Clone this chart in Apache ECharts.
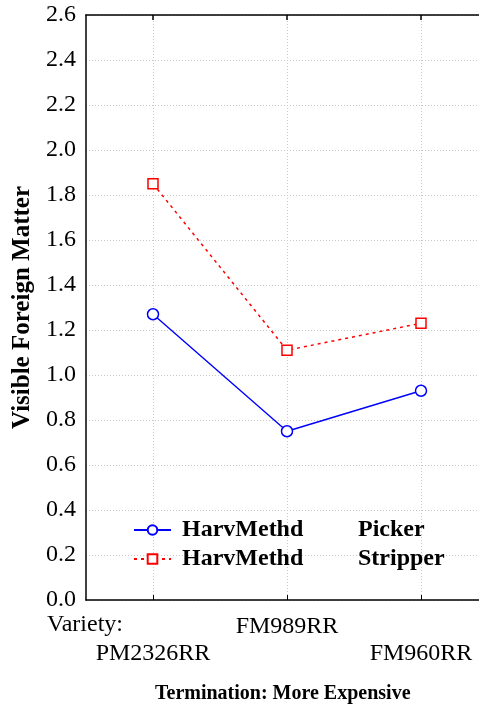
<!DOCTYPE html>
<html>
<head>
<meta charset="utf-8">
<script src="https://cdn.jsdelivr.net/npm/echarts@6/dist/echarts.min.js"></script>
<style>
  html, body { margin: 0; padding: 0; background: #fff; }
  #chart { width: 479px; height: 706px; }
</style>
</head>
<body>
<div id="chart"></div>
<script>
// Variety means of visible foreign matter by harvest method
const varieties = ['PM2326RR', 'FM989RR', 'FM960RR'];
const pickerValues = [1.27, 0.75, 0.93];
const stripperValues = [1.85, 1.11, 1.23];
const yTicks = { min: 0, max: 2.6, step: 0.2 };
const seriesNames = ['Picker', 'Stripper'];

const FONT = '"Liberation Serif", "Times New Roman", serif';
const gridLine = { show: true, lineStyle: { color: '#c8c8c8', type: [1, 2], width: 1 } };

const chart = echarts.init(document.getElementById('chart'), null, { renderer: 'canvas' });

chart.setOption({
  animation: false,
  backgroundColor: '#ffffff',
  grid: { left: 86, top: 15, width: 402, height: 585, containLabel: false, outerBoundsMode: 'none' },
  legend: {
    orient: 'vertical',
    left: 128,
    top: 513,
    itemWidth: 37,
    itemHeight: 12,
    itemGap: 5,
    data: seriesNames,
    formatter: name => '{a|HarvMethd}{b|' + name + '}',
    textStyle: {
      padding: [0, 0, 0, 6],
      rich: {
        a: { fontFamily: FONT, fontSize: 24, fontWeight: 'bold', color: '#000', width: 176 },
        b: { fontFamily: FONT, fontSize: 24, fontWeight: 'bold', color: '#000' }
      }
    }
  },
  xAxis: [
    {
      type: 'category',
      position: 'bottom',
      data: varieties,
      boundaryGap: true,
      axisLine: { show: true, lineStyle: { color: '#000', width: 1.5 } },
      axisTick: { show: true, inside: true, alignWithLabel: true, length: 5, lineStyle: { color: '#000', width: 1 } },
      splitLine: Object.assign({ alignWithLabel: true }, gridLine),
      axisLabel: {
        interval: 0,
        fontFamily: FONT, fontSize: 24, color: '#000', margin: 13, lineHeight: 27,
        formatter: (v, i) => (i % 2 === 1 ? v : '\n' + v)
      }
    },
    {
      type: 'category',
      position: 'top',
      data: varieties,
      boundaryGap: true,
      axisLine: { show: true, lineStyle: { color: '#000', width: 1.5 } },
      axisTick: { show: true, inside: true, alignWithLabel: true, length: 5, lineStyle: { color: '#000', width: 1.5 } },
      axisLabel: { show: false },
      splitLine: { show: false }
    }
  ],
  yAxis: {
    type: 'value',
    min: yTicks.min,
    max: yTicks.max,
    interval: yTicks.step,
    name: 'Visible Foreign Matter',
    nameLocation: 'middle',
    nameGap: 49,
    nameTextStyle: { fontFamily: FONT, fontSize: 25, fontWeight: 'bold', color: '#000' },
    axisLine: { show: true, lineStyle: { color: '#000', width: 1.5 } },
    axisTick: { show: false },
    splitLine: gridLine,
    axisLabel: {
      fontFamily: FONT, fontSize: 24, color: '#000', margin: 10,
      formatter: v => v.toFixed(1)
    }
  },
  series: [
    {
      name: seriesNames[0],
      type: 'line',
      data: pickerValues,
      symbol: 'circle',
      symbolSize: 11,
      color: '#0000ff',
      lineStyle: { color: '#0000ff', width: 1.4, type: 'solid' },
      itemStyle: { color: '#ffffff', borderColor: '#0000ff', borderWidth: 1.5 },
      z: 3
    },
    {
      name: seriesNames[1],
      type: 'line',
      data: stripperValues,
      symbol: 'rect',
      symbolSize: 10,
      color: '#ff0000',
      lineStyle: { color: '#ff0000', width: 1.5, type: [3, 4] },
      itemStyle: { color: '#ffffff', borderColor: '#ff0000', borderWidth: 1.5 },
      z: 3
    }
  ],
  graphic: [
    {
      type: 'text',
      left: 47,
      top: 613,
      style: { text: 'Variety:', font: '24px ' + FONT, fill: '#000' }
    },
    {
      type: 'text',
      left: 155,
      top: 684,
      style: { text: 'Termination: More Expensive', font: 'bold 20px ' + FONT, fill: '#000' }
    }
  ]
});
</script>
</body>
</html>
